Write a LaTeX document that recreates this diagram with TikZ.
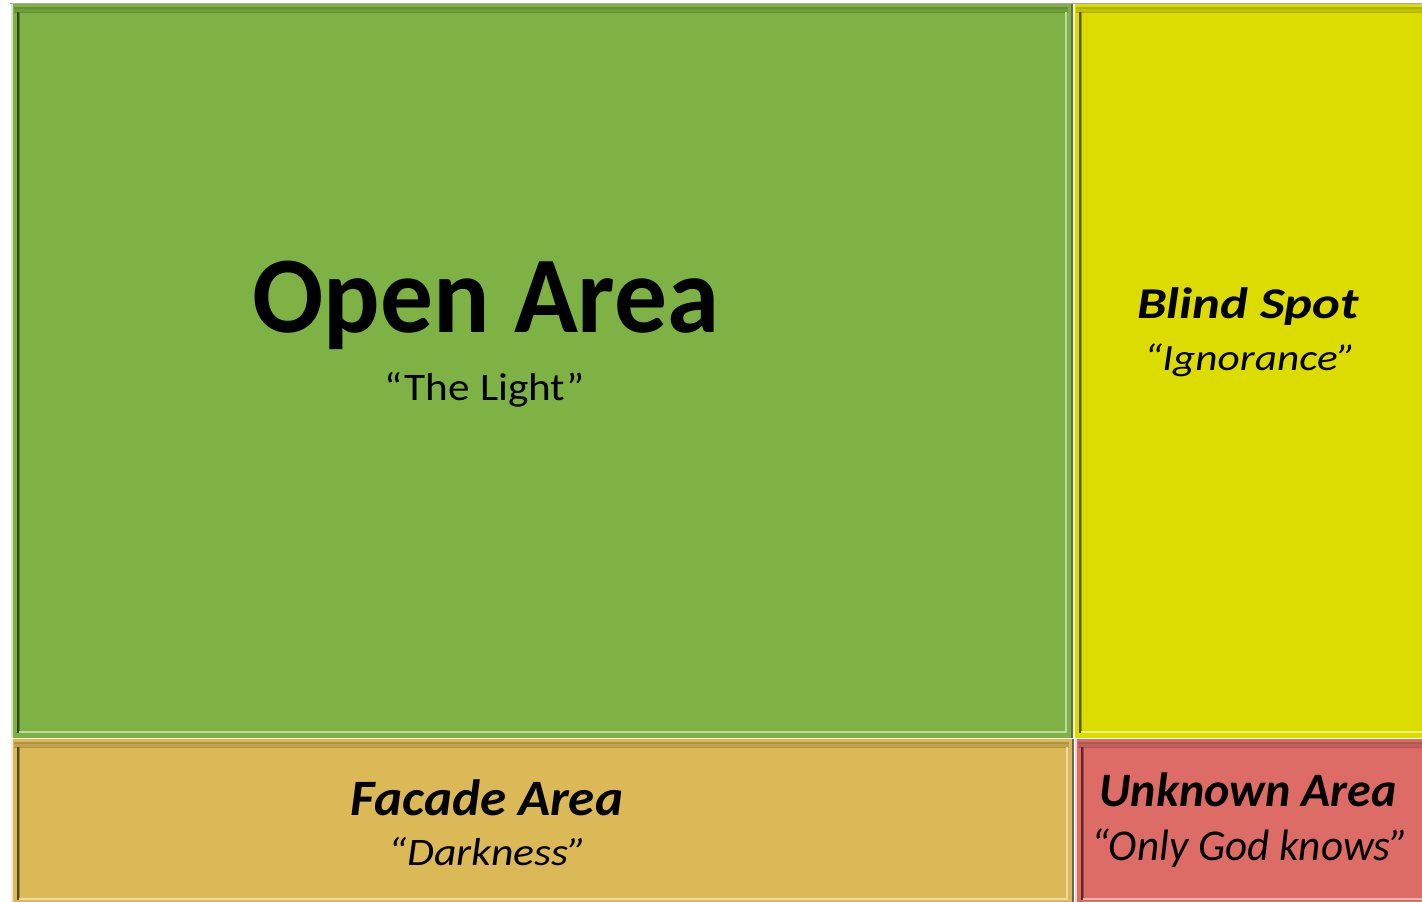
\documentclass[tikz,border=0pt]{standalone}
\usepackage{graphicx}
\usepackage{fontspec}
\setmainfont{Carlito}
\definecolor{cgreen}{HTML}{7FB244}
\definecolor{cyellow}{HTML}{DCDC00}
\definecolor{cfacade}{HTML}{DBB957}
\definecolor{cred}{HTML}{DD6B66}
\newcommand\jbox[5]{%
  \fill[#5] (#1,#2) rectangle (#3,#4);
  \fill[#5!80!black] (#1+3,#2+3) rectangle (#3-3,#2+9);
  \fill[#5!88!black] (#1+3,#2+5) rectangle (#3-3,#2+8);
  \fill[#5!40!black] (#1+6,#2+8) rectangle (#1+8,#4-5);
  \fill[#5!70!black] (#1+8,#2+8) rectangle (#1+9,#4-5);
  \fill[#5!50!white] (#3-6,#2+8) rectangle (#3-4,#4-5);
  \fill[#5!50!white] (#1+8,#4-7) rectangle (#3-4,#4-5);
  \fill[#5!30!white] (#1,#2) rectangle (#1+1.5,#4);
}
\newcommand\xs[2]{\scalebox{#1}[1]{#2}}
\tikzset{
  lbl/.style={anchor=base, inner sep=0pt}
}
\begin{document}
\begin{tikzpicture}[x=1pt,y=-1pt]
\useasboundingbox (0,0) rectangle (1422,902);
\clip (0,0) rectangle (1422,902);
\fill[white] (0,0) rectangle (1422,902);
\fill[black!35] (10,2.5) rectangle (1422,4);
\jbox{11}{4}{1071}{738}{cgreen}
\jbox{1073}{4}{1432}{738}{cyellow}
\jbox{11}{739}{1072}{905}{cfacade}
\jbox{1075}{739}{1432}{905}{cred}
\fill[black!60] (1071,4) rectangle (1073,738);
\fill[black!60] (1072,739) rectangle (1073.5,902);
\node[lbl, font=\bfseries\fontsize{109}{120}\selectfont] (open) at (486,332) {\xs{0.967}{Open Area}};
\node[lbl, font=\fontsize{39}{44}\selectfont] (light) at (485,400) {\xs{1.11}{“The Light”}};
\node[lbl, font=\bfseries\itshape\fontsize{44}{50}\selectfont] (blind) at (1248,318) {\xs{1.2}{Blind Spot}};
\node[lbl, font=\itshape\fontsize{37}{44}\selectfont] (ign) at (1250,370) {\xs{1.17}{“Ignorance”}};
\node[lbl, font=\bfseries\itshape\fontsize{51}{56}\selectfont] (facade) at (487,815) {\xs{1.04}{Facade Area}};
\node[lbl, font=\itshape\fontsize{39}{44}\selectfont] (dark) at (488,865) {\xs{1.12}{“Darkness”}};
\node[lbl, font=\bfseries\itshape\fontsize{48}{54}\selectfont] (unknown) at (1248,806) {Unknown Area};
\node[lbl, font=\itshape\fontsize{44}{50}\selectfont] (god) at (1250,860) {\xs{0.98}{“Only God knows”}};
\end{tikzpicture}
\end{document}
